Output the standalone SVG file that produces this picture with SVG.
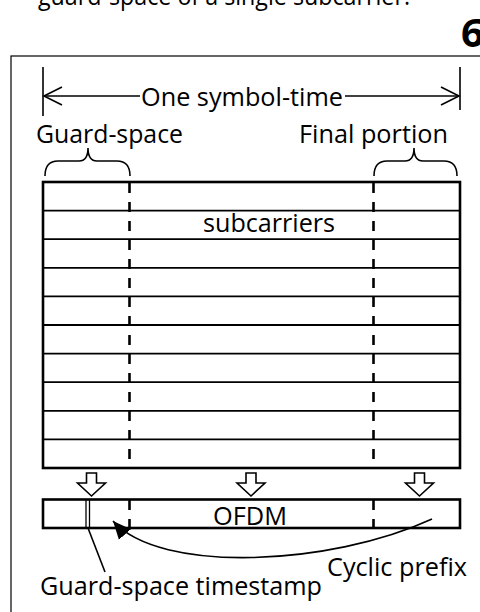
<svg xmlns="http://www.w3.org/2000/svg" width="480" height="612" viewBox="0 0 480 612">
<defs>
<style>
text{font-family:"Open Sans","Noto Sans","Liberation Sans",sans-serif;font-size:25.5px;fill:#000}
.ln{stroke:#000;fill:none;stroke-width:1.6}
.grid{stroke:#000;stroke-width:1.8}
.border{stroke:#000;fill:none;stroke-width:2.6}
.dash{stroke:#000;stroke-width:2.6;stroke-dasharray:10 9}
.hollow{fill:#fff;stroke:#000;stroke-width:1.6;stroke-linejoin:miter}
</style>
<marker id="open" markerUnits="userSpaceOnUse" markerWidth="24" markerHeight="24" refX="19" refY="10" orient="auto-start-reverse" viewBox="0 0 24 20">
<path d="M1,1 L19,10 L1,19" fill="none" stroke="#000" stroke-width="1.6"/>
</marker>
<marker id="solid" markerUnits="userSpaceOnUse" markerWidth="22" markerHeight="18" refX="18" refY="8" orient="auto" viewBox="0 0 22 16">
<path d="M0,0 L18,8 L0,16 Z" fill="#000"/>
</marker>
</defs>
<rect x="11" y="56" width="500" height="600" fill="none" stroke="#000" stroke-width="1.2"/>
<text x="38" y="5" textLength="372" lengthAdjust="spacingAndGlyphs">guard-space of a single subcarrier.</text>
<text x="461" y="47" style="font-weight:bold;font-size:40px">6</text>

<g id="dimension">
<line class="ln" x1="43" y1="67" x2="43" y2="116"/>
<line class="ln" x1="460" y1="67" x2="460" y2="110"/>
<line class="ln" x1="44" y1="96" x2="140" y2="96" marker-start="url(#open)"/>
<line class="ln" x1="345" y1="96" x2="459" y2="96" marker-end="url(#open)"/>
<text x="141" y="106" textLength="202" lengthAdjust="spacingAndGlyphs">One symbol-time</text>
</g>

<g id="guard-space">
<text x="36" y="143" textLength="147" lengthAdjust="spacingAndGlyphs">Guard-space</text>
<path class="ln" d="M45,176 Q45,161 58,161 L79,161 Q88,161 88,148 Q88,161 97,161 L117,161 Q130,161 130,176" stroke-width="2"/>
</g>

<g id="final-portion">
<text x="299" y="143" textLength="149" lengthAdjust="spacingAndGlyphs">Final portion</text>
<path class="ln" d="M374,176 Q374,161 387,161 L405,161 Q414,161 414,148 Q414,161 423,161 L444,161 Q457,161 457,176" stroke-width="2"/>
</g>

<g id="subcarriers">
<rect class="border" x="43" y="182" width="417" height="286"/>
<line class="grid" x1="43" y1="210.6" x2="460" y2="210.6"/>
<line class="grid" x1="43" y1="239.2" x2="460" y2="239.2"/>
<line class="grid" x1="43" y1="267.8" x2="460" y2="267.8"/>
<line class="grid" x1="43" y1="296.4" x2="460" y2="296.4"/>
<line class="grid" x1="43" y1="325" x2="460" y2="325"/>
<line class="grid" x1="43" y1="353.6" x2="460" y2="353.6"/>
<line class="grid" x1="43" y1="382.2" x2="460" y2="382.2"/>
<line class="grid" x1="43" y1="410.8" x2="460" y2="410.8"/>
<line class="grid" x1="43" y1="439.4" x2="460" y2="439.4"/>
<line class="dash" x1="129.5" y1="183" x2="129.5" y2="467"/>
<line class="dash" x1="373.5" y1="183" x2="373.5" y2="467"/>
<text x="203" y="232" textLength="132" lengthAdjust="spacingAndGlyphs">subcarriers</text>
</g>

<g id="arrows-down">
<path class="hollow" d="M86.5,473 L96.5,473 L96.5,483 L105.5,483 L91.5,496 L77.5,483 L86.5,483 Z"/>
<path class="hollow" d="M246,473 L256,473 L256,483 L265,483 L251,496 L237,483 L246,483 Z"/>
<path class="hollow" d="M414.5,473 L424.5,473 L424.5,483 L433.5,483 L419.5,496 L405.5,483 L414.5,483 Z"/>
</g>

<g id="ofdm">
<rect class="border" x="43" y="499.5" width="417" height="28.5"/>
<line class="dash" x1="129.5" y1="500" x2="129.5" y2="527"/>
<line class="dash" x1="373.5" y1="500" x2="373.5" y2="527"/>
<text x="213" y="525" textLength="74" lengthAdjust="spacingAndGlyphs">OFDM</text>
</g>

<g id="timestamp">
<line x1="86" y1="500" x2="86" y2="528" stroke="#000" stroke-width="1.3"/>
<line x1="89.5" y1="500" x2="89.5" y2="528" stroke="#000" stroke-width="1.3"/>
<text x="40" y="595" textLength="282" lengthAdjust="spacingAndGlyphs">Guard-space timestamp</text>
</g>

<g id="cyclic-prefix">
<text x="327" y="576" textLength="140" lengthAdjust="spacingAndGlyphs">Cyclic prefix</text>
</g>

<g id="connectors">
<line class="ln" x1="88" y1="528" x2="105" y2="572"/>
<path class="ln" d="M432,519 C330,566 160,574 113,521" stroke-width="2.4" marker-end="url(#solid)"/>
</g>
</svg>
